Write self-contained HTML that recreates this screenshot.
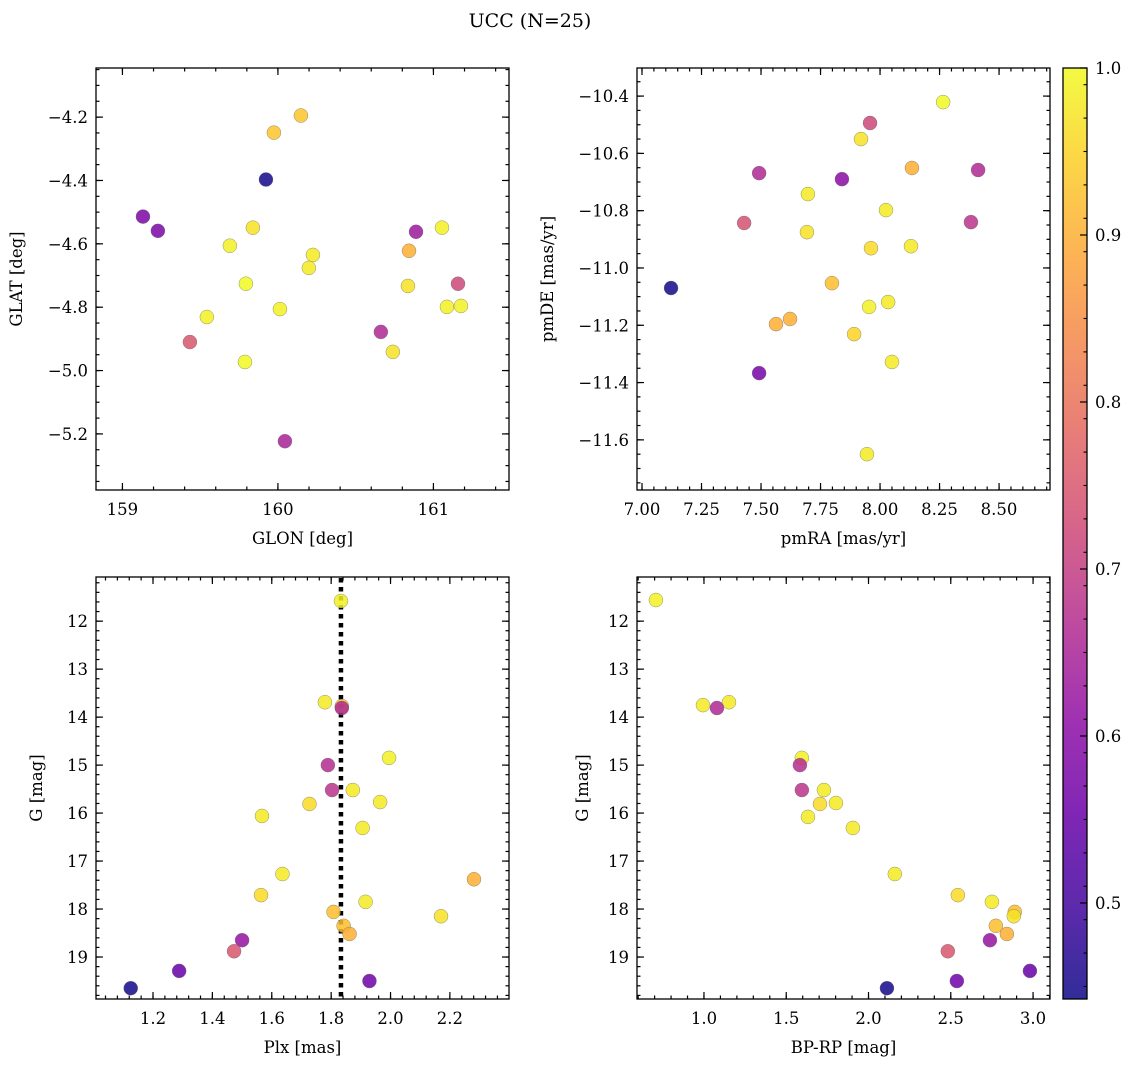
<!DOCTYPE html>
<html><head><meta charset="utf-8"><style>
body{margin:0;background:#fff;}
svg{display:block;font-family:"DejaVu Serif","Liberation Serif",serif;}
</style></head><body>
<svg id="fig" width="1136" height="1067" viewBox="0 0 1136 1067" xmlns="http://www.w3.org/2000/svg">
<text x="530" y="27" font-size="19" text-anchor="middle">UCC (N=25)</text>
</svg>
<script>
// Panel 1: GLON vs GLAT
const glonX = [159.974,160.148,159.923,159.132,159.228,159.839,159.691,159.794,160.225,160.199,160.013,159.543,159.434,159.788,160.045,161.055,160.888,160.843,160.836,161.158,161.087,161.177,160.662,160.739];
const glatY = [-4.249,-4.195,-4.397,-4.514,-4.559,-4.549,-4.606,-4.726,-4.635,-4.676,-4.806,-4.831,-4.910,-4.973,-5.223,-4.549,-4.562,-4.622,-4.733,-4.726,-4.799,-4.796,-4.878,-4.941];
const glonP = [0.93,0.93,0.45,0.58,0.58,0.97,0.99,1.0,0.98,0.98,0.99,0.99,0.75,1.0,0.65,0.99,0.63,0.9,0.97,0.72,0.99,0.99,0.66,0.97];
// Panel 2: pmRA vs pmDE
const pmraX = [8.265,7.958,7.920,7.492,7.840,7.697,8.412,8.134,7.429,8.025,7.693,8.382,7.962,8.130,7.122,7.798,8.034,7.954,7.622,7.563,7.891,8.050,7.492,7.945];
const pmdeY = [-10.421,-10.494,-10.550,-10.669,-10.690,-10.742,-10.658,-10.651,-10.843,-10.798,-10.875,-10.840,-10.931,-10.924,-11.070,-11.053,-11.119,-11.136,-11.178,-11.196,-11.231,-11.328,-11.367,-11.650];
const pmP = [1.0,0.72,0.97,0.66,0.6,0.98,0.66,0.9,0.74,0.98,0.97,0.68,0.96,0.98,0.45,0.92,0.98,0.99,0.9,0.9,0.95,0.98,0.57,0.98];
// Panel 3: Plx vs G
const plxX = [1.833,1.779,1.836,1.836,1.995,1.789,1.803,1.873,1.965,1.727,1.567,1.906,1.636,2.281,1.564,1.916,1.808,2.170,1.842,1.862,1.500,1.473,1.288,1.929,1.125];
const plxG = [11.58,13.69,13.77,13.81,14.85,15.0,15.52,15.52,15.77,15.81,16.06,16.31,17.27,17.38,17.71,17.85,18.06,18.15,18.35,18.52,18.65,18.88,19.29,19.5,19.65];
const plxP = [0.99,0.98,0.93,0.66,0.99,0.67,0.68,0.98,0.98,0.96,0.98,0.98,0.98,0.9,0.96,0.98,0.92,0.97,0.92,0.9,0.62,0.75,0.55,0.56,0.45];
const plxLine = 1.833;
// Panel 4: BP-RP vs G
const bprpX = [0.708,0.994,1.152,1.079,1.595,1.583,1.595,1.729,1.802,1.705,1.632,1.905,2.160,2.543,2.75,2.889,2.883,2.774,2.841,2.738,2.482,2.981,2.537,2.112];
const bprpG = [11.56,13.75,13.69,13.81,14.85,15.0,15.52,15.52,15.79,15.81,16.08,16.31,17.27,17.71,17.85,18.06,18.15,18.35,18.52,18.65,18.88,19.29,19.5,19.65];
const bprpP = [0.99,0.98,0.98,0.66,0.99,0.67,0.68,0.98,0.98,0.96,0.98,0.98,0.98,0.96,0.98,0.92,0.97,0.92,0.9,0.62,0.75,0.55,0.56,0.45];
const cbTicks = [0.5,0.6,0.7,0.8,0.9,1.0];

const NS="http://www.w3.org/2000/svg";
const svg=document.getElementById('fig');
function mk(tag,attrs,parent){const e=document.createElementNS(NS,tag);for(const k in attrs)e.setAttribute(k,attrs[k]);(parent||svg).appendChild(e);return e;}
const stops=[[13,8,135],[65,4,157],[106,0,168],[143,13,164],[177,42,144],[204,71,120],[225,100,98],[242,132,75],[252,166,54],[252,206,37],[240,249,33]];
const VMIN=0.4425,VMAX=1.0;
function plasma(p){let t=(p-VMIN)/(VMAX-VMIN);t=Math.max(0,Math.min(1,t));const f=t*10,i=Math.min(9,Math.floor(f)),r=f-i;const a=stops[i],b=stops[i+1];return 'rgb('+[0,1,2].map(k=>Math.round(a[k]+(b[k]-a[k])*r)).join(',')+')';}

const TFS=16.5, LFS=16.5;
function panel(name,box,xr,yr,xt,xminor,yt,yminor,xfmt,yfmt,xlab,ylab,ylabX,invert){
  const [L,T,R,B]=box;
  const sx=v=>L+(v-xr[0])/(xr[1]-xr[0])*(R-L);
  const sy=invert?(v=>T+(v-yr[0])/(yr[1]-yr[0])*(B-T)):(v=>B-(v-yr[0])/(yr[1]-yr[0])*(B-T));
  const g=mk('g',{});
  
  
  const ticks=mk('g',{stroke:'#000','stroke-width':1.2},g);
  
  
  const inX=v=>v>=xr[0]-1e-9&&v<=xr[1]+1e-9, inY=v=>v>=Math.min(...yr)-1e-9&&v<=Math.max(...yr)+1e-9;
  xminor.filter(inX).forEach(v=>{const x=sx(v);mk('line',{x1:x,x2:x,y1:B,y2:B-3.5},ticks);mk('line',{x1:x,x2:x,y1:T,y2:T+3.5},ticks);});
  yminor.filter(inY).forEach(v=>{const y=sy(v);mk('line',{x1:L,x2:L+3.5,y1:y,y2:y},ticks);mk('line',{x1:R,x2:R-3.5,y1:y,y2:y},ticks);});
  xt.filter(inX).forEach(v=>{const x=sx(v);mk('line',{x1:x,x2:x,y1:B,y2:B-7},ticks);mk('line',{x1:x,x2:x,y1:T,y2:T+7},ticks);
    const t=mk('text',{x:x,y:B+25,'font-size':TFS,'text-anchor':'middle'},g);t.textContent=xfmt(v);
    });
  yt.filter(inY).forEach(v=>{const y=sy(v);mk('line',{x1:L,x2:L+7,y1:y,y2:y},ticks);mk('line',{x1:R,x2:R-7,y1:y,y2:y},ticks);
    const t=mk('text',{x:L-8,y:y+6,'font-size':TFS,'text-anchor':'end'},g);t.textContent=yfmt(v);
    });
  const fr=mk('rect',{x:L,y:T,width:R-L,height:B-T,fill:'none',stroke:'#000','stroke-width':1.3},g);
  
  const xl=mk('text',{x:(L+R)/2,y:B+54,'font-size':LFS,'text-anchor':'middle'},g);xl.textContent=xlab;
  
  const yl=mk('text',{x:ylabX,y:(T+B)/2,'font-size':LFS,'text-anchor':'middle',transform:'rotate(-90 '+ylabX+' '+(T+B)/2+')'},g);yl.textContent=ylab;
  
  return {sx,sy,g};
}
function range(a,b,s){const o=[];for(let v=a;v<=b+1e-9;v+=s)o.push(+v.toFixed(6));return o;}
function scatter(ax,xs,ys,ps){
  xs.forEach((x,i)=>{const c=mk('circle',{cx:ax.sx(x),cy:ax.sy(ys[i]),r:7,fill:plasma(ps[i]),'fill-opacity':0.85,stroke:'#666','stroke-width':0.5,'stroke-opacity':0.7},ax.g);
    
    });
}
const neg=v=>'\u2212'+Math.abs(v).toFixed(1);
const a1=panel('glon-glat-panel',[96,68,509,490],[158.83,161.486],[-5.377,-4.045],[159,160,161],range(158.8,161.6,0.2),range(-5.2,-4.2,0.2),range(-5.35,-4.05,0.05),v=>String(v),neg,'GLON [deg]','GLAT [deg]',22,false);
scatter(a1,glonX,glatY,glonP);
const a2=panel('pmra-pmde-panel',[637,68,1050,490],[6.979,8.714],[-11.775,-10.302],range(7,8.5,0.25),range(7,8.7,0.05),range(-11.6,-10.4,0.2),range(-11.75,-10.35,0.05),v=>v.toFixed(2),neg,'pmRA [mas/yr]','pmDE [mas/yr]',553,false);
scatter(a2,pmraX,pmdeY,pmP);
const a3=panel('plx-g-panel',[96,577,509,999],[1.008,2.399],[11.08,19.875],range(1.2,2.2,0.2),range(1.04,2.4,0.04),range(12,19,1),range(11.2,19.8,0.2),v=>v.toFixed(1),v=>String(v),'Plx [mas]','G [mag]',42,true);
const dl=mk('line',{x1:a3.sx(plxLine),x2:a3.sx(plxLine),y1:578,y2:998,stroke:'#000','stroke-width':4.5,'stroke-dasharray':'4.5 4.5'},a3.g);


scatter(a3,plxX,plxG,plxP);
const a4=panel('bprp-g-panel',[637,577,1050,999],[0.593,3.103],[11.08,19.875],range(1,3,0.5),range(0.6,3.1,0.1),range(12,19,1),range(11.2,19.8,0.2),v=>v.toFixed(1),v=>String(v),'BP-RP [mag]','G [mag]',588,true);
scatter(a4,bprpX,bprpG,bprpP);
// colorbar
const cb=mk('g',{});


const defs=mk('defs',{});
const lg=mk('linearGradient',{id:'pl',x1:0,y1:1,x2:0,y2:0},defs);
for(let i=0;i<=20;i++){const p=VMIN+(VMAX-VMIN)*i/20;mk('stop',{offset:i/20,'stop-color':plasma(p),'stop-opacity':0.85},lg);}
const CL=1063,CR=1087,CT=68,CB=999;
const cy=v=>CB-(v-VMIN)/(VMAX-VMIN)*(CB-CT);
mk('rect',{x:CL,y:CT,width:CR-CL,height:CB-CT,fill:'url(#pl)'},cb);
range(0.45,1.0,0.02).forEach(v=>mk('line',{x1:CR,x2:CR-3.5,y1:cy(v),y2:cy(v),stroke:'#000','stroke-width':1.1},cb));
cbTicks.forEach(v=>{mk('line',{x1:CR,x2:CR-7,y1:cy(v),y2:cy(v),stroke:'#000','stroke-width':1.2},cb);
  const t=mk('text',{x:CR+8,y:cy(v)+6,'font-size':TFS},cb);t.textContent=v.toFixed(1);
  });
mk('rect',{x:CL,y:CT,width:CR-CL,height:CB-CT,fill:'none',stroke:'#000','stroke-width':1.3},cb);
</script>
</body></html>
